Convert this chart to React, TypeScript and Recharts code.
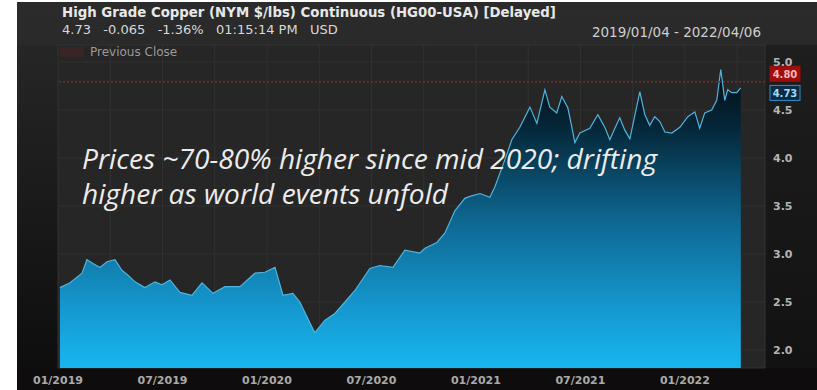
import React from "react";
import { AreaChart, Area, XAxis, YAxis, CartesianGrid, ReferenceLine } from "recharts";

// months since 01/2019 and continuous front-month copper price ($/lb)
const MONTHS = [
  0.11, 0.69, 1.38, 1.66, 2.01, 2.41, 2.81, 3.27, 3.67, 4.02, 4.42, 4.99, 5.57, 5.97, 6.43, 7.0, 7.69, 8.27,
  8.9, 9.59, 10.45, 11.31, 11.88, 12.46, 12.92, 13.49, 13.89, 14.47, 14.75, 15.33, 15.9, 16.48, 17.05, 17.91,
  18.48, 19.23, 19.92, 20.78, 21.07, 21.76, 22.22, 22.79, 23.36, 23.65, 24.23, 24.8, 25.09, 25.66, 26.06,
  26.52, 27.1, 27.5, 27.96, 28.24, 28.64, 28.93, 29.28, 29.51, 29.68, 29.97, 30.54, 31.0, 31.4, 31.69, 31.98,
  32.26, 32.55, 32.84, 33.41, 33.7, 33.98, 34.27, 34.56, 34.85, 35.25, 35.71, 36.17, 36.57, 36.85, 37.14,
  37.54, 37.83, 38.06, 38.29, 38.46, 38.69, 38.98, 39.21,
];
const PRICES = [
  2.65, 2.7, 2.8, 2.94, 2.9, 2.86, 2.92, 2.94, 2.83, 2.78, 2.71, 2.65, 2.71, 2.68, 2.73, 2.6, 2.57, 2.7,
  2.59, 2.66, 2.66, 2.8, 2.81, 2.86, 2.57, 2.59, 2.5, 2.28, 2.18, 2.31, 2.38, 2.5, 2.62, 2.85,
  2.88, 2.86, 3.04, 3.01, 3.06, 3.12, 3.22, 3.45, 3.58, 3.6, 3.63, 3.59, 3.7, 3.98, 4.19,
  4.32, 4.53, 4.36, 4.71, 4.53, 4.47, 4.64, 4.52, 4.32, 4.16, 4.26, 4.31, 4.45, 4.32, 4.19, 4.31,
  4.42, 4.29, 4.2, 4.69, 4.45, 4.34, 4.43, 4.38, 4.27, 4.26, 4.32, 4.43, 4.48, 4.31, 4.47,
  4.5, 4.6, 4.92, 4.6, 4.71, 4.68, 4.68, 4.73,
];
const X_TICKS = [0, 3, 6, 9, 12, 15, 18, 21, 24, 27, 30, 33, 36, 39];
const Y_TICKS = [2.0, 2.5, 3.0, 3.5, 4.0, 4.5, 5.0];
const PREV_CLOSE = 4.795;
const LAST = 4.73;

const data = MONTHS.map((m, i) => ({ m, price: PRICES[i] }));

const fmtMonth = (m: number) => {
  if (m % 6 !== 0) return "";
  const mm = m % 12 === 0 ? "01" : "07";
  return `${mm}/${2019 + Math.floor(m / 12)}`;
};

const font = "'DejaVu Sans', Verdana, sans-serif";

function PriceTag({ viewBox, text, dy, fill, stroke, color }: any) {
  if (!viewBox) return null;
  const x = viewBox.x + viewBox.width + 5;
  const y = viewBox.y + dy;
  return (
    <g>
      <rect x={x} y={y - 7.5} width={30} height={15} fill={fill} stroke={stroke} strokeWidth={1} />
      <text x={x + 15} y={y + 4} textAnchor="middle" fill={color} fontSize={10} fontWeight="bold" fontFamily={font}>
        {text}
      </text>
    </g>
  );
}

export default function App() {
  return (
    <div style={{ position: "absolute", left: 0, top: 0, width: 817, height: 390, background: "#fff", overflow: "hidden", fontFamily: font }}>
      {/* dark panel */}
      <div style={{ position: "absolute", left: 17, top: 2, width: 800, height: 388, background: "linear-gradient(#2b2b2b, #1e1e1e)" }} />
      <div style={{ position: "absolute", left: 17, top: 45, width: 41, height: 345, background: "linear-gradient(#262626, #0c0c0c)" }} />
      <div style={{ position: "absolute", left: 765, top: 45, width: 52, height: 345, background: "linear-gradient(#1e1e1e, #111)" }} />
      <div style={{ position: "absolute", left: 17, top: 368, width: 800, height: 22, background: "#0e0c0c" }} />

      <AreaChart width={817} height={390} data={data} margin={{ top: 45, right: 0, bottom: 0, left: 58 }} style={{ position: "absolute", left: 0, top: 0 }}>
        <defs>
          <linearGradient id="cuFill" x1="0" y1="0" x2="0" y2="1">
            <stop offset="0%" stopColor="#020c13" />
            <stop offset="20%" stopColor="#05283a" />
            <stop offset="50%" stopColor="#0e6690" />
            <stop offset="80%" stopColor="#1598cf" />
            <stop offset="100%" stopColor="#17b6ef" />
          </linearGradient>
        </defs>
        <CartesianGrid fill="#262626" stroke="#323232" strokeWidth={1} />
        <XAxis
          dataKey="m"
          type="number"
          domain={[0, 40.6]}
          allowDataOverflow
          ticks={X_TICKS}
          tickFormatter={fmtMonth}
          axisLine={false}
          tickLine={false}
          tickSize={0}
          tickMargin={8}
          height={22}
          interval={0}
          tick={{ fill: "#a9a9a9", fontSize: 11, fontWeight: "bold", fontFamily: font }}
        />
        <YAxis
          orientation="right"
          type="number"
          domain={[1.8125, 5.177]}
          allowDataOverflow
          ticks={Y_TICKS}
          tickFormatter={(v: number) => v.toFixed(1)}
          axisLine={false}
          tickLine={false}
          tickSize={0}
          tickMargin={8}
          width={52}
          interval={0}
          tick={{ fill: "#b5b5b5", fontSize: 11, fontWeight: "bold", fontFamily: font }}
        />
        <ReferenceLine
          y={PREV_CLOSE}
          stroke="#8a2222"
          strokeDasharray="2 2"
          strokeWidth={1.5}
          label={(p: any) => <PriceTag {...p} text="4.80" dy={-8} fill="#a00d0d" stroke="#a00d0d" color="#f2b8b8" />}
        />
        <Area
          type="linear"
          dataKey="price"
          stroke="#4fb4df"
          strokeWidth={1.2}
          fill="url(#cuFill)"
          fillOpacity={1}
          isAnimationActive={false}
          baseValue="dataMin"
          dot={false}
          activeDot={false}
        />
        <ReferenceLine
          y={LAST}
          stroke="none"
          strokeOpacity={0}
          label={(p: any) => <PriceTag {...p} text="4.73" dy={5} fill="#0b2c44" stroke="#2e8fc8" color="#a6dbf6" />}
        />
      </AreaChart>

      {/* header */}
      <div style={{ position: "absolute", left: 62, top: 5, fontSize: 13.3, fontWeight: "bold", color: "#e8e8e8", whiteSpace: "nowrap" }}>
        High Grade Copper (NYM $/lbs) Continuous (HG00-USA) [Delayed]
      </div>
      <div style={{ position: "absolute", left: 62, top: 22, fontSize: 13, color: "#d8d8d8", whiteSpace: "pre" }}>
        {"4.73   -0.065   -1.36%   01:15:14 PM   USD"}
      </div>
      <div style={{ position: "absolute", left: 541, top: 24, width: 220, textAlign: "right", fontSize: 13.5, color: "#cfcfcf", whiteSpace: "nowrap" }}>
        2019/01/04 - 2022/04/06
      </div>
      <div style={{ position: "absolute", left: 60, top: 47, width: 24, height: 10, background: "#3a2525" }} />
      <div style={{ position: "absolute", left: 90, top: 45, fontSize: 12, color: "#9a9a9a", whiteSpace: "nowrap" }}>Previous Close</div>

      {/* annotation */}
      <svg width={817} height={390} style={{ position: "absolute", left: 0, top: 0, pointerEvents: "none" }}>
        <text x={82} y={169} fontSize={27} fontStyle="italic" fill="#ececec" fontFamily="'Open Sans', sans-serif" textLength={575} lengthAdjust="spacingAndGlyphs">
          Prices ~70-80% higher since mid 2020; drifting
        </text>
        <text x={82} y={204} fontSize={27} fontStyle="italic" fill="#ececec" fontFamily="'Open Sans', sans-serif" textLength={366} lengthAdjust="spacingAndGlyphs">
          higher as world events unfold
        </text>
      </svg>
    </div>
  );
}
